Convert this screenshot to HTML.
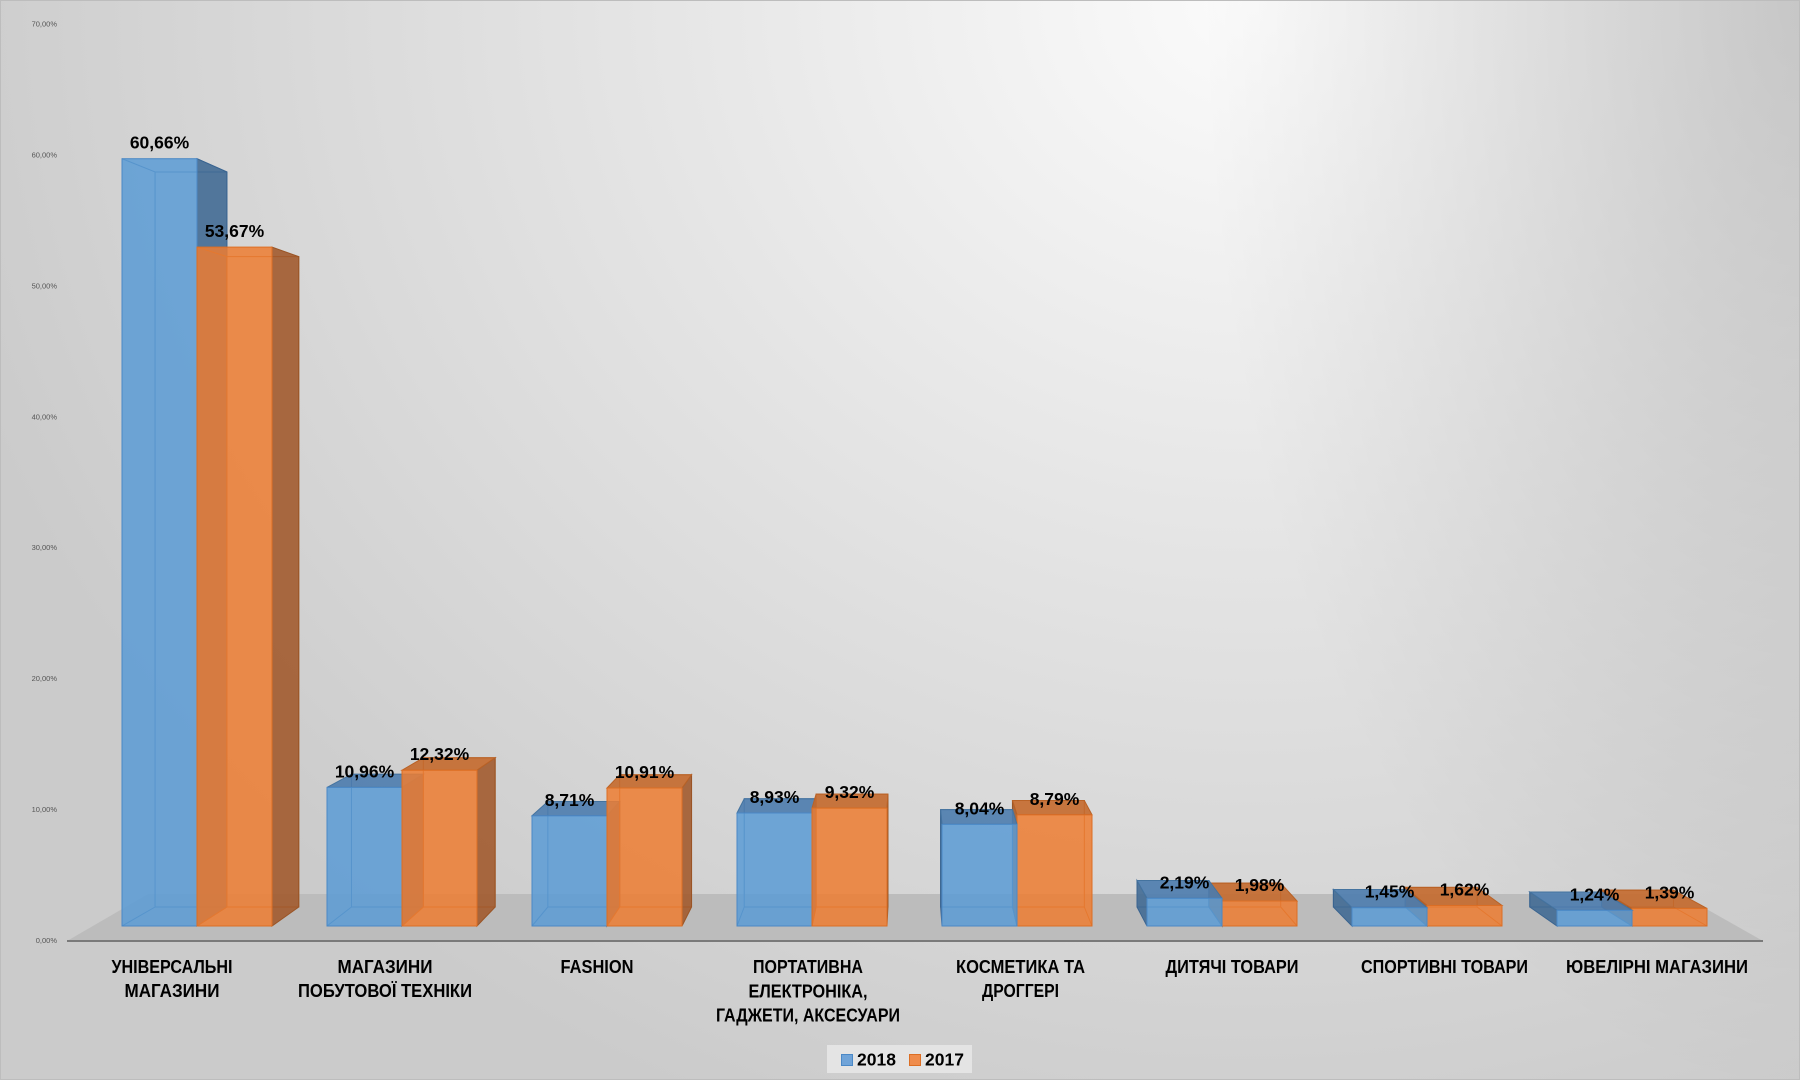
<!DOCTYPE html>
<html>
<head>
<meta charset="utf-8">
<style>
  html, body { margin:0; padding:0; }
  body { width:1800px; height:1080px; overflow:hidden; }
  #wrap {
    position:relative; width:1800px; height:1080px;
    background:
      radial-gradient(ellipse 600px 1100px at 1800px 0px, rgba(0,0,0,0.14) 0%, rgba(0,0,0,0.07) 50%, rgba(0,0,0,0) 100%),
      radial-gradient(ellipse 1350px 1200px at 1250px 0px, #fbfbfb 0%, #e5e5e5 45%, #cbcbcb 100%);
  }
  svg { position:absolute; left:0; top:0; }
  .yl { font-family:"Liberation Sans", sans-serif; font-size:7.5px; fill:#555; }
  .dl { font-family:"Liberation Sans", sans-serif; font-size:17.5px; font-weight:bold; fill:#000; }
  .cl { font-family:"Liberation Sans", sans-serif; font-size:18px; font-weight:bold; fill:#000; }
  .bw { fill:none; stroke:#3d6c9c; stroke-width:1; }
  .ow { fill:none; stroke:#b45c20; stroke-width:1; }
  .bf { fill:#5B9BD5; fill-opacity:0.85; stroke:#4a88c6; stroke-width:1; }
  .of { fill:#ED7D31; fill-opacity:0.85; stroke:#dc6e24; stroke-width:1; }
  .bs { fill:#3f6993; fill-opacity:0.88; stroke:#3a6490; stroke-width:1; }
  .os { fill:#a0582a; fill-opacity:0.88; stroke:#9a5526; stroke-width:1; }
  .bt { fill:#4c7cae; fill-opacity:0.9; stroke:#44739f; stroke-width:1; }
  .ot { fill:#c4692c; fill-opacity:0.9; stroke:#b96226; stroke-width:1; }
</style>
</head>
<body>
<div id="wrap">
<svg width="1800" height="1080" viewBox="0 0 1800 1080" xmlns="http://www.w3.org/2000/svg">
  <rect x="0.5" y="0.5" width="1799" height="1079" fill="none" stroke="#bdbdbd" stroke-width="1"/>

  <!-- Y axis labels -->
  <g class="yl" text-anchor="end">
    <text x="57" y="26.6">70,00%</text>
    <text x="57" y="157.5">60,00%</text>
    <text x="57" y="288.4">50,00%</text>
    <text x="57" y="419.3">40,00%</text>
    <text x="57" y="550.2">30,00%</text>
    <text x="57" y="681.1">20,00%</text>
    <text x="57" y="812">10,00%</text>
    <text x="57" y="942.9">0,00%</text>
  </g>

  <!-- floor -->
  <polygon points="67,941 1763,941 1680,894 148,894" fill="#bcbcbc"/>
  <line x1="67" y1="941" x2="1763" y2="941" stroke="#7a7a7a" stroke-width="2"/>

  <!-- Group 1 -->
  <path class="bw" d="M155.06,171.94 H226.91 V907 H155.06 Z M122,158.7 L155.06,171.94 M197,158.7 L226.91,171.94 M122,926 L155.06,907 M197,926 L226.91,907"/>
  <polygon class="bs" points="197,158.7 226.91,171.94 226.91,907 197,926"/>
  <rect class="bf" x="122" y="158.7" width="75" height="767.3"/>
  <path class="ow" d="M226.91,256.63 H298.76 V907 H226.91 Z M197,247.1 L226.91,256.63 M197,926 L226.91,907"/>
  <polygon class="os" points="272,247.1 298.76,256.63 298.76,907 272,926"/>
  <rect class="of" x="197" y="247.1" width="75" height="678.9"/>

  <!-- Group 2 -->
  <path class="bw" d="M351.45,774.24 H423.30 V907 H351.45 Z M327,926 L351.45,907"/>
  <polygon class="bs" points="402,787.4 423.30,774.24 423.30,907 402,926"/>
  <polygon class="bt" points="327,787.4 402,787.4 423.30,774.24 351.45,774.24"/>
  <rect class="bf" x="327" y="787.4" width="75" height="138.6"/>
  <path class="ow" d="M423.30,757.76 H495.15 V907 H423.30 Z M402,926 L423.30,907"/>
  <polygon class="os" points="477,770.2 495.15,757.76 495.15,907 477,926"/>
  <polygon class="ot" points="402,770.2 477,770.2 495.15,757.76 423.30,757.76"/>
  <rect class="of" x="402" y="770.2" width="75" height="155.8"/>

  <!-- Group 3 -->
  <path class="bw" d="M547.84,801.47 H619.69 V907 H547.84 Z M532,926 L547.84,907"/>
  <polygon class="bs" points="607,815.8 619.69,801.47 619.69,907 607,926"/>
  <polygon class="bt" points="532,815.8 607,815.8 619.69,801.47 547.84,801.47"/>
  <rect class="bf" x="532" y="815.8" width="75" height="110.2"/>
  <path class="ow" d="M619.69,774.81 H691.54 V907 H619.69 Z M607,926 L619.69,907"/>
  <polygon class="os" points="682,788 691.54,774.81 691.54,907 682,926"/>
  <polygon class="ot" points="607,788 682,788 691.54,774.81 619.69,774.81"/>
  <rect class="of" x="607" y="788" width="75" height="138"/>

  <!-- Group 4 -->
  <path class="bw" d="M744.23,798.76 H816.08 V907 H744.23 Z M737,926 L744.23,907"/>
  <polygon class="bs" points="812,813 816.08,798.76 816.08,907 812,926"/>
  <polygon class="bt" points="737,813 812,813 816.08,798.76 744.23,798.76"/>
  <rect class="bf" x="737" y="813" width="75" height="113"/>
  <path class="ow" d="M816.08,794.07 H887.93 V907 H816.08 Z M812,926 L816.08,907"/>
  <polygon class="os" points="887,808.1 887.93,794.07 887.93,907 887,926"/>
  <polygon class="ot" points="812,808.1 887,808.1 887.93,794.07 816.08,794.07"/>
  <rect class="of" x="812" y="808.1" width="75" height="117.9"/>

  <!-- Group 5 (orange first) -->
  <path class="ow" d="M1012.47,800.49 H1084.32 V907 H1012.47 Z M1092,926 L1084.32,907"/>
  <polygon class="os" points="1017,814.8 1012.47,800.49 1012.47,907 1017,926"/>
  <polygon class="ot" points="1017,814.8 1092,814.8 1084.32,800.49 1012.47,800.49"/>
  <rect class="of" x="1017" y="814.8" width="75" height="111.2"/>
  <path class="bw" d="M940.62,809.59 H1012.47 V907 H940.62 Z M1017,926 L1012.47,907"/>
  <polygon class="bs" points="942,824.3 940.62,809.59 940.62,907 942,926"/>
  <polygon class="bt" points="942,824.3 1017,824.3 1012.47,809.59 940.62,809.59"/>
  <rect class="bf" x="942" y="824.3" width="75" height="101.7"/>

  <!-- Group 6 -->
  <path class="ow" d="M1208.86,883.07 H1280.71 V907 H1208.86 Z M1297,926 L1280.71,907"/>
  <polygon class="os" points="1222,901 1208.86,883.07 1208.86,907 1222,926"/>
  <polygon class="ot" points="1222,901 1297,901 1280.71,883.07 1208.86,883.07"/>
  <rect class="of" x="1222" y="901" width="75" height="25"/>
  <path class="bw" d="M1137.01,880.48 H1208.86 V907 H1137.01 Z M1222,926 L1208.86,907"/>
  <polygon class="bs" points="1147,898.3 1137.01,880.48 1137.01,907 1147,926"/>
  <polygon class="bt" points="1147,898.3 1222,898.3 1208.86,880.48 1137.01,880.48"/>
  <rect class="bf" x="1147" y="898.3" width="75" height="27.7"/>

  <!-- Group 7 -->
  <path class="ow" d="M1405.25,887.38 H1477.10 V907 H1405.25 Z M1502,926 L1477.10,907"/>
  <polygon class="os" points="1427,905.5 1405.25,887.38 1405.25,907 1427,926"/>
  <polygon class="ot" points="1427,905.5 1502,905.5 1477.10,887.38 1405.25,887.38"/>
  <rect class="of" x="1427" y="905.5" width="75" height="20.5"/>
  <path class="bw" d="M1333.40,889.49 H1405.25 V907 H1333.40 Z M1427,926 L1405.25,907"/>
  <polygon class="bs" points="1352,907.7 1333.40,889.49 1333.40,907 1352,926"/>
  <polygon class="bt" points="1352,907.7 1427,907.7 1405.25,889.49 1333.40,889.49"/>
  <rect class="bf" x="1352" y="907.7" width="75" height="18.3"/>

  <!-- Group 8 -->
  <path class="ow" d="M1601.64,890.16 H1673.49 V907 H1601.64 Z M1707,926 L1673.49,907"/>
  <polygon class="os" points="1632,908.4 1601.64,890.16 1601.64,907 1632,926"/>
  <polygon class="ot" points="1632,908.4 1707,908.4 1673.49,890.16 1601.64,890.16"/>
  <rect class="of" x="1632" y="908.4" width="75" height="17.6"/>
  <path class="bw" d="M1529.79,891.98 H1601.64 V907 H1529.79 Z M1632,926 L1601.64,907"/>
  <polygon class="bs" points="1557,910.3 1529.79,891.98 1529.79,907 1557,926"/>
  <polygon class="bt" points="1557,910.3 1632,910.3 1601.64,891.98 1529.79,891.98"/>
  <rect class="bf" x="1557" y="910.3" width="75" height="15.7"/>

  <!-- Data labels -->
  <g class="dl" text-anchor="middle">
    <text x="159.5" y="148.7">60,66%</text>
    <text x="234.5" y="237.1">53,67%</text>
    <text x="364.5" y="777.4">10,96%</text>
    <text x="439.5" y="760.2">12,32%</text>
    <text x="569.5" y="805.8">8,71%</text>
    <text x="644.5" y="778">10,91%</text>
    <text x="774.5" y="803">8,93%</text>
    <text x="849.5" y="798.1">9,32%</text>
    <text x="979.5" y="814.3">8,04%</text>
    <text x="1054.5" y="804.8">8,79%</text>
    <text x="1184.5" y="888.3">2,19%</text>
    <text x="1259.5" y="891">1,98%</text>
    <text x="1389.5" y="897.7">1,45%</text>
    <text x="1464.5" y="895.5">1,62%</text>
    <text x="1594.5" y="900.3">1,24%</text>
    <text x="1669.5" y="898.4">1,39%</text>
  </g>

  <!-- Category labels -->
  <g class="cl" text-anchor="middle">
    <text x="172" y="973" textLength="121" lengthAdjust="spacingAndGlyphs">УНІВЕРСАЛЬНІ</text>
    <text x="172" y="997" textLength="95" lengthAdjust="spacingAndGlyphs">МАГАЗИНИ</text>

    <text x="385" y="973" textLength="95" lengthAdjust="spacingAndGlyphs">МАГАЗИНИ</text>
    <text x="385" y="997" textLength="174" lengthAdjust="spacingAndGlyphs">ПОБУТОВОЇ ТЕХНІКИ</text>

    <text x="597" y="973" textLength="73" lengthAdjust="spacingAndGlyphs">FASHION</text>

    <text x="808" y="973" textLength="110" lengthAdjust="spacingAndGlyphs">ПОРТАТИВНА</text>
    <text x="808" y="997.3" textLength="119" lengthAdjust="spacingAndGlyphs">ЕЛЕКТРОНІКА,</text>
    <text x="808" y="1021.6" textLength="184" lengthAdjust="spacingAndGlyphs">ГАДЖЕТИ, АКСЕСУАРИ</text>

    <text x="1020.5" y="973" textLength="129" lengthAdjust="spacingAndGlyphs">КОСМЕТИКА ТА</text>
    <text x="1020.5" y="997" textLength="77" lengthAdjust="spacingAndGlyphs">ДРОГГЕРІ</text>

    <text x="1232" y="973" textLength="133" lengthAdjust="spacingAndGlyphs">ДИТЯЧІ ТОВАРИ</text>

    <text x="1444.5" y="973" textLength="167" lengthAdjust="spacingAndGlyphs">СПОРТИВНІ ТОВАРИ</text>

    <text x="1657" y="973" textLength="182" lengthAdjust="spacingAndGlyphs">ЮВЕЛІРНІ МАГАЗИНИ</text>
  </g>

  <!-- Legend -->
  <rect x="827" y="1045" width="145" height="28" fill="#e4e4e4"/>
  <rect x="841.5" y="1054.5" width="11" height="11" fill="#6fa3d8" stroke="#4a88c6" stroke-width="1"/>
  <text class="dl" x="857" y="1065.5">2018</text>
  <rect x="909.5" y="1054.5" width="11" height="11" fill="#ef8c4c" stroke="#dc6e24" stroke-width="1"/>
  <text class="dl" x="925" y="1065.5">2017</text>
</svg>
</div>
</body>
</html>
